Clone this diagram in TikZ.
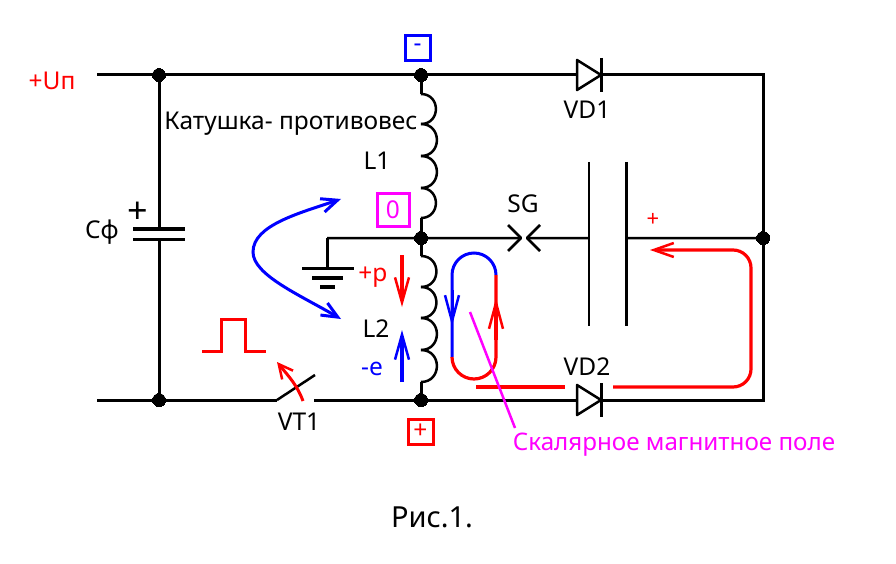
\documentclass[tikz,border=0pt]{standalone}
\usepackage{fontspec}
\setmainfont{Noto Sans}
\usetikzlibrary{arrows.meta}
\definecolor{mgn}{RGB}{255,0,255}
\begin{document}
\begin{tikzpicture}[x=1pt,y=-1pt,
	wire/.style = {draw, line width=3pt},
	thin wire/.style = {draw, line width=2.5pt},
	dot/.style = {draw, circle, fill=black, inner sep=0pt, minimum size=13pt, line width=0pt},
	lbl/.style = {font=\fontsize{24.5}{24.5}\selectfont, inner sep=0pt},
	tag/.style = {draw, line width=3pt, minimum width=25pt, minimum height=25pt, inner sep=0pt},
	bluearr/.style = {draw=blue, line width=3pt, {Straight Barb[length=16pt,width=14pt]}-{Straight Barb[length=16pt,width=14pt]}},
	longarr/.style = {line width=3.2pt, -{Straight Barb[length=25pt,width=14pt,line width=2.5pt]}}]
	\useasboundingbox (0,0) rectangle (896,564);

	\coordinate (inTop) at (97,75);
	\coordinate (inBot) at (97,400);
	\coordinate (swA) at (277,400);
	\coordinate (swB) at (315,375);
	\coordinate (swC) at (314,400);
	\coordinate (corTop) at (763,75);
	\coordinate (corBot) at (763,400);
	\coordinate (capT) at (159,229);
	\coordinate (capB) at (159,239);
	\coordinate (gnd) at (327,268);
	\coordinate (gndL) at (327,238);
	\coordinate (sgL) at (521,238);
	\coordinate (sgR) at (527,238);
	\coordinate (plL) at (589,238);
	\coordinate (plR) at (626,238);
	\coordinate (lTop) at (421,94);
	\coordinate (lMidA) at (421,218);
	\coordinate (lMidB) at (421,256);
	\coordinate (lBot) at (421,382);

	\node[dot] (a) at (159,75) {};
	\node[dot] (b) at (421,75) {};
	\node[dot] (c) at (159,400) {};
	\node[dot] (d) at (421,400) {};
	\node[dot] (e) at (421,238) {};
	\node[dot] (f) at (763,238) {};

	\draw[wire] (inTop) -- (corTop) -- (corBot) -- (swC)
	(inBot) -- (swA)
	(a) -- (capT)
	(capB) -- (c)
	(b) -- (lTop)
	(lMidA) -- (lMidB)
	(lBot) -- (d)
	(gndL) -- (gnd);
	\draw[thin wire] (gndL) -- (sgL)
	(sgR) -- (plL)
	(plR) -- (f)
	(swA) -- (swB);

	\foreach \p/\q in {94/124,124/156,156/188,188/218,256/287,287/318,318/350,350/382}
		\draw[line width=2.5pt] (421,\p) to[out=0,in=0,looseness=1.7] (421,\q);

	\draw[line width=4pt] (133,229) -- (185,229);
	\draw[line width=3pt] (133,239) -- (185,239);
	\draw[line width=3pt] (302,268) -- (354,268);
	\draw[line width=4pt] (312,278) -- (343,278);
	\draw[line width=4pt] (320,287) -- (335,287);
	\draw[line width=2.5pt, line join=round] (508,225) -- (521,238) -- (508,251);
	\draw[line width=2.5pt, line join=round] (540,225) -- (527,238) -- (540,251);
	\draw[line width=2.5pt] (589,162) -- (589,326);
	\draw[line width=3pt] (626,162) -- (626,326);

	\foreach \y in {75,400} {
		\draw[line width=2.5pt, fill=white, line join=round] (577,\y-15) -- (601,\y) -- (577,\y+15) -- cycle;
		\draw[line width=3pt] (601,\y-17) -- (601,\y+17);
	}

	\draw[line width=3pt, red] (202,351) -- (221,351) -- (221,319) -- (245,319) -- (245,351) -- (266,351);
	\draw[line width=3pt, red, -{Straight Barb[length=14pt,width=14pt,line width=2.5pt]}] (303,401) .. controls (297,385) and (290,378) .. (277,362);
	\draw[bluearr] (341,319) .. controls (300,295) and (253,275) .. (253,252) .. controls (253,225) and (300,213) .. (341,199);
	\draw[longarr, red] (402,255) -- (402,307);
	\draw[longarr, blue] (402,382) -- (402,330);

	\draw[line width=3pt, blue] (496,275) arc[start angle=0,end angle=-180,radius=22] -- (452,357);
	\draw[line width=3.2pt, red] (452,357) arc[start angle=180,end angle=0,radius=22] -- (496,275);
	\draw[line width=3pt, blue, -{Straight Barb[length=26pt,width=14pt,line width=2.5pt]}] (452,290) -- (452,326);
	\draw[line width=3.2pt, red, -{Straight Barb[length=26pt,width=14pt,line width=2.5pt]}] (496,340) -- (496,298);
	\draw[line width=3.2pt, red] (476,387) -- (565,387);
	\draw[line width=3.2pt, red, rounded corners=18pt, -{Straight Barb[length=20pt,width=14pt,line width=2.5pt]}] (613,387) -- (751,387) -- (751,250) -- (650,250);

	\draw[line width=2.5pt, mgn] (470,312) -- (515,428);

	\node[tag, draw=blue, blue, lbl] (minus) at (417.5,48) {-};
	\node[tag, draw=mgn, text=mgn, minimum width=32pt, minimum height=33pt, lbl] (zero) at (393,209.5) {0};
	\node[tag, draw=red, red, lbl] (plus) at (420.5,431.5) {+};

	\node[lbl, red] (up) at (52,81) {+Uп};
	\node[lbl] (cf) at (102,232) {Cф};
	\node[font=\fontsize{36}{36}\selectfont\bfseries, inner sep=0pt] (capplus) at (138,213) {+};
	\node[lbl] (coilname) at (291,124) {Катушка- противовес};
	\node[lbl] (l1) at (377,161) {L1};
	\node[lbl] (l2) at (376,329) {L2};
	\node[lbl, red] (pp) at (373,277) {+p};
	\node[lbl, blue] (ee) at (372,369) {-e};
	\node[lbl] (sg) at (523,204) {SG};
	\node[lbl] (vd1) at (587,110) {VD1};
	\node[lbl] (vd2) at (587,367) {VD2};
	\node[lbl] (vt1) at (299,422) {VT1};
	\node[font=\fontsize{22}{22}\selectfont, inner sep=0pt, red] (capsign) at (653,220) {+};
	\node[font=\fontsize{24.2}{24.2}\selectfont, inner sep=0pt, mgn] (field) at (674,445) {Скалярное магнитное поле};
	\node[font=\fontsize{29}{29}\selectfont, inner sep=0pt] (fig) at (432,517) {Рис.1.};
\end{tikzpicture}
\end{document}
